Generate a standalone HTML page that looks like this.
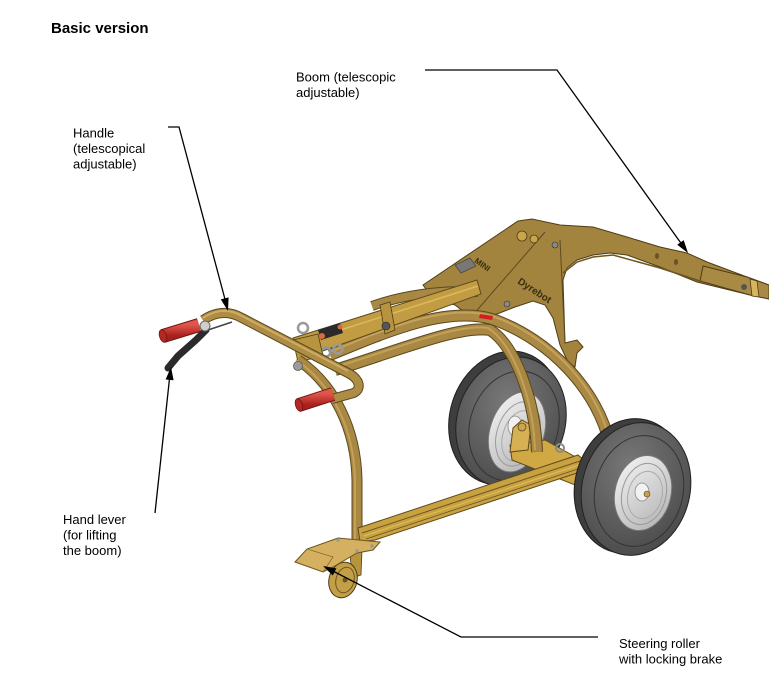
<!DOCTYPE html>
<html><head><meta charset="utf-8"><style>
html,body{margin:0;padding:0;background:#fff;}
svg{display:block;}
text{font-family:"Liberation Sans",Arial,sans-serif;fill:#000;}
</style></head><body>
<svg width="769" height="690" viewBox="0 0 769 690" xmlns="http://www.w3.org/2000/svg">
<defs>
<radialGradient id="tire" cx="0.4" cy="0.35" r="0.75">
<stop offset="0" stop-color="#787878"/><stop offset="1" stop-color="#474747"/>
</radialGradient>
<linearGradient id="rim" x1="0" y1="0" x2="1" y2="1">
<stop offset="0" stop-color="#f6f6f6"/><stop offset="1" stop-color="#b0b0b0"/>
</linearGradient>
<linearGradient id="grip" x1="0" y1="0" x2="0" y2="1">
<stop offset="0" stop-color="#e0554c"/><stop offset="1" stop-color="#a8201c"/>
</linearGradient>
</defs>

<!-- Title -->
<text x="51" y="33" font-size="15" font-weight="bold">Basic version</text>

<!-- ===== BOOM ===== -->
<path d="M423,285 L518,221 L532,219 L560,225 L593,227 L627,237 L660,247 L687,253 L707,262 L747,277 L769,285 L769,299 L750,295 L697,282 L660,267 L627,255 L610,253 L593,255 L577,260 L567,268 L563,280 L565,343 L577,340 L583,347 L577,353 L575,367 L568,362 L560,345 L553,318 L545,305 L533,301 L515,307 L497,314 L472,318 L455,305 L433,298 Z" fill="#a3843f" stroke="#4e3d15" stroke-width="1"/>
<path d="M703,266 L747,277 L769,285 L769,299 L750,295 L700,281 Z" fill="#a98a45" stroke="#4e3d15" stroke-width="1"/>
<path d="M750,279 L757,281 L759,297 L752,296 Z" fill="#d6b55e" stroke="#4e3d15" stroke-width="0.8"/>
<circle cx="744" cy="287" r="3" fill="#555"/>
<ellipse cx="657" cy="256" rx="2" ry="3" fill="#6a5322"/>
<ellipse cx="676" cy="262" rx="2" ry="3" fill="#6a5322"/>
<path d="M545,232 L472,316" stroke="#5d4a1e" stroke-width="1" fill="none"/>
<path d="M560,240 L565,343" stroke="#5d4a1e" stroke-width="1" fill="none"/>
<path d="M563,273 L577,262 L593,257 L613,255 L660,268 L700,281" stroke="#6d5522" stroke-width="1.5" fill="none"/>
<circle cx="522" cy="236" r="5" fill="#c9a54e" stroke="#4e3d15" stroke-width="0.8"/>
<circle cx="534" cy="239" r="4" fill="#c9a54e" stroke="#4e3d15" stroke-width="0.8"/>
<circle cx="555" cy="245" r="3" fill="#888" stroke="#333" stroke-width="0.6"/>
<circle cx="507" cy="304" r="3" fill="#888" stroke="#333" stroke-width="0.6"/>
<text x="517" y="283" font-size="10" font-weight="bold" transform="rotate(33 517 283)" style="fill:#3a2e10">Dyrebot</text>
<text x="474" y="262" font-size="8" font-weight="bold" transform="rotate(35 474 262)" style="fill:#3a2e10">MINI</text>
<path d="M455,265 L470,258 L476,266 L461,273 Z" fill="#777" stroke="#333" stroke-width="0.6"/>

<!-- upper tube behind beam -->
<g fill="none">
<path d="M372,306 C400,296 440,289 478,292" stroke="#5b481c" stroke-width="10"/>
<path d="M372,306 C400,296 440,289 478,292" stroke="#a98843" stroke-width="8"/>
</g>

<!-- ===== BACK WHEEL ===== -->
<ellipse cx="505" cy="418" rx="55" ry="68" transform="rotate(18 505 418)" fill="#3e3e3e" stroke="#1e1e1e" stroke-width="1"/>
<ellipse cx="511" cy="422" rx="54" ry="66" transform="rotate(18 511 422)" fill="url(#tire)" stroke="#222" stroke-width="1"/>
<ellipse cx="514" cy="426" rx="44" ry="56" transform="rotate(18 514 426)" fill="none" stroke="#333" stroke-width="1"/>
<ellipse cx="517" cy="432" rx="27" ry="41" transform="rotate(18 517 432)" fill="url(#rim)" stroke="#777" stroke-width="1"/>
<ellipse cx="518" cy="434" rx="21" ry="33" transform="rotate(18 518 434)" fill="none" stroke="#999" stroke-width="1"/>
<ellipse cx="519" cy="436" rx="16" ry="26" transform="rotate(18 519 436)" fill="none" stroke="#aaa" stroke-width="1"/>
<ellipse cx="515" cy="426" rx="7" ry="10" fill="#f2f2f2" stroke="#888" stroke-width="0.8"/>

<!-- rear axle -->
<path d="M510,445 L545,440 L590,465 L590,480 L575,485 L512,460 Z" fill="#d0a844" stroke="#5d4a1e" stroke-width="1"/>
<path d="M510,452 L513,428 L522,420 L531,425 L528,450 Z" fill="#d6b052" stroke="#5d4a1e" stroke-width="1"/>
<circle cx="522" cy="427" r="4" fill="#c9a54e" stroke="#5d4a1e" stroke-width="0.8"/>
<circle cx="560" cy="448" r="4" fill="none" stroke="#8a8a8a" stroke-width="2"/>

<!-- ===== TUBES ===== -->
<g fill="none" stroke-linecap="butt">
<!-- rear tube to back axle -->
<path d="M335,370 C400,350 460,325 490,330 C515,345 535,400 537,452" stroke="#5b481c" stroke-width="12"/>
<path d="M335,370 C400,350 460,325 490,330 C515,345 535,400 537,452" stroke="#a98843" stroke-width="10"/>
<path d="M335,370 C400,350 460,325 490,330 C515,345 535,400 537,452" stroke="#c4a159" stroke-width="2" transform="translate(-2,-2)"/>
<!-- right big arch -->
<path d="M330,355 C390,330 450,305 495,320 C550,340 598,390 610,445" stroke="#5b481c" stroke-width="12"/>
<path d="M330,355 C390,330 450,305 495,320 C550,340 598,390 610,445" stroke="#aa8944" stroke-width="10"/>
<path d="M330,355 C390,330 450,305 495,320 C550,340 598,390 610,445" stroke="#c6a35c" stroke-width="2" transform="translate(0,-3)"/>
</g>
<path d="M480,314 L493,316 L492,320 L479,318 Z" fill="#d02020"/>

<!-- box beam / cylinder -->
<path d="M293,338 L477,280 L481,294 L320,352 L297,350 Z" fill="#c29c42" stroke="#5d4a1e" stroke-width="1"/>
<path d="M300,343 L478,286" stroke="#dcb95e" stroke-width="1.5"/>
<path d="M380,305 L390,302 L395,330 L385,334 Z" fill="#b8933d" stroke="#4e3d15" stroke-width="0.8"/>
<circle cx="386" cy="326" r="4" fill="#555" stroke="#222" stroke-width="0.6"/>
<path d="M318,330 L340,323 L343,333 L321,340 Z" fill="#2a2a2a"/>
<circle cx="322" cy="336" r="3" fill="#d66a40"/>
<circle cx="340" cy="327" r="2.5" fill="#d66a40"/>
<circle cx="303" cy="328" r="5" fill="none" stroke="#9a9a9a" stroke-width="2.5"/>
<circle cx="326" cy="352" r="4.5" fill="none" stroke="#8a9a9a" stroke-width="2.5"/>
<circle cx="338" cy="349" r="4.5" fill="none" stroke="#9a9a9a" stroke-width="2.5"/>
<path d="M293,340 L318,334 L323,356 L298,362 Z" fill="#b8943e" stroke="#4e3d15" stroke-width="0.8"/>

<!-- left arch to caster -->
<g fill="none">
<path d="M298,360 C335,385 356,430 357,480 L357,545" stroke="#5b481c" stroke-width="11"/>
<path d="M298,360 C335,385 356,430 357,480 L357,545" stroke="#a98843" stroke-width="9"/>
<path d="M298,360 C335,385 356,430 357,480 L357,545" stroke="#c4a159" stroke-width="2" transform="translate(-2,0)"/>
</g>
<circle cx="298" cy="366" r="4.5" fill="#9b9b9b" stroke="#555" stroke-width="0.8"/>

<!-- handle tube -->
<g fill="none">
<path d="M203,320 C215,312 228,310 242,318 L348,373 C362,380 362,392 350,394 L332,399" stroke="#5b481c" stroke-width="10"/>
<path d="M203,320 C215,312 228,310 242,318 L348,373 C362,380 362,392 350,394 L332,399" stroke="#ad8c46" stroke-width="8"/>
<path d="M203,320 C215,312 228,310 242,318 L348,373" stroke="#cfac62" stroke-width="2" transform="translate(0,-2)"/>
</g>

<!-- lever and cable -->
<path d="M208,330 L232,322" stroke="#444" stroke-width="1.5"/>
<path d="M206,330 L196,340 L178,356 L168,368" stroke="#2b2b2b" stroke-width="7" stroke-linecap="round" fill="none"/>
<circle cx="205" cy="326" r="5" fill="#cfcfcf" stroke="#666" stroke-width="1"/>

<!-- grips -->
<path d="M163,336 L199,325" stroke="#6d1512" stroke-width="14"/>
<path d="M163,336 L199,325" stroke="url(#grip)" stroke-width="12"/>
<ellipse cx="163" cy="336" rx="3.5" ry="6.5" transform="rotate(-17 163 336)" fill="#b52723" stroke="#6d1512" stroke-width="0.8"/>
<path d="M299,405 L333,394" stroke="#6d1512" stroke-width="14"/>
<path d="M299,405 L333,394" stroke="url(#grip)" stroke-width="12"/>
<ellipse cx="299" cy="405" rx="3.5" ry="6.5" transform="rotate(-17 299 405)" fill="#b52723" stroke="#6d1512" stroke-width="0.8"/>

<!-- ===== MAIN BEAM ===== -->
<path d="M358,528 L578,455 L586,462 L586,470 L375,540 L360,542 Z" fill="#c8a240" stroke="#5d4a1e" stroke-width="1"/>
<path d="M362,533 L580,461" stroke="#6d5522" stroke-width="1"/>
<path d="M364,536 L582,464" stroke="#e0bd5c" stroke-width="1"/>
<path d="M366,539 L584,467" stroke="#6d5522" stroke-width="0.8"/>

<!-- ===== FRONT WHEEL ===== -->
<ellipse cx="630" cy="486" rx="55" ry="68" transform="rotate(14 630 486)" fill="#3e3e3e" stroke="#1e1e1e" stroke-width="1"/>
<ellipse cx="636" cy="489" rx="54" ry="67" transform="rotate(14 636 489)" fill="url(#tire)" stroke="#222" stroke-width="1"/>
<ellipse cx="639" cy="491" rx="44" ry="56" transform="rotate(14 639 491)" fill="none" stroke="#333" stroke-width="1"/>
<ellipse cx="643" cy="493" rx="28" ry="38" transform="rotate(14 643 493)" fill="url(#rim)" stroke="#777" stroke-width="1"/>
<ellipse cx="644" cy="494" rx="22" ry="31" transform="rotate(14 644 494)" fill="none" stroke="#999" stroke-width="1"/>
<ellipse cx="645" cy="495" rx="17" ry="24" transform="rotate(14 645 495)" fill="none" stroke="#aaa" stroke-width="1"/>
<ellipse cx="642" cy="492" rx="7" ry="9" fill="#f2f2f2" stroke="#888" stroke-width="0.8"/>
<circle cx="647" cy="494" r="3" fill="#c9a04a" stroke="#5d4a1e" stroke-width="0.6"/>

<!-- ===== CASTER ===== -->
<path d="M350,553 L362,550 L361,575 L352,578 Z" fill="#b8943e" stroke="#4e3d15" stroke-width="0.8"/>
<ellipse cx="343" cy="580" rx="14" ry="18" transform="rotate(15 343 580)" fill="#c3a048" stroke="#4a3a18" stroke-width="1"/>
<ellipse cx="345" cy="580" rx="9" ry="13" transform="rotate(15 345 580)" fill="none" stroke="#6b5420" stroke-width="1"/>
<circle cx="345" cy="580" r="2.5" fill="#6b5420"/>
<path d="M295,562 L307,549 L338,538 L380,542 L373,550 L357,553 L333,567 L323,572 Z" fill="#d4b060" stroke="#6b5420" stroke-width="1"/>
<path d="M307,549 L333,557 L323,572" fill="none" stroke="#8a6d28" stroke-width="0.8"/>
<circle cx="338" cy="540" r="1.8" fill="#999"/>
<circle cx="357" cy="551" r="1.8" fill="#999"/>
<circle cx="372" cy="546" r="1.8" fill="#999"/>

<!-- ===== LEADER LINES ===== -->
<g stroke="#000" stroke-width="1.3" fill="none">
<path d="M425,70 L557,70 L683,246"/>
<path d="M168,127 L179,127 L226,303"/>
<path d="M155,513 L170,374"/>
<path d="M598,637 L461,637 L329,569"/>
</g>
<g fill="#000">
<polygon points="688,253 683.7,240.1 677.2,244.7"/>
<polygon points="228,311 228.6,297.4 220.8,299.4"/>
<polygon points="171,367 173.6,380.3 165.6,379.5"/>
<polygon points="323,566 336.4,568.4 332.8,575.5"/>
</g>

<!-- ===== LABELS ===== -->
<text font-size="13">
<tspan x="296" y="81.5">Boom (telescopic</tspan>
<tspan x="296" y="97">adjustable)</tspan>
</text>
<text font-size="13">
<tspan x="73" y="137.5">Handle</tspan>
<tspan x="73" y="153">(telescopical</tspan>
<tspan x="73" y="168.5">adjustable)</tspan>
</text>
<text font-size="13">
<tspan x="63" y="524">Hand lever</tspan>
<tspan x="63" y="539.5">(for lifting</tspan>
<tspan x="63" y="555">the boom)</tspan>
</text>
<text font-size="13">
<tspan x="619" y="648">Steering roller</tspan>
<tspan x="619" y="663.5">with locking brake</tspan>
</text>
</svg>
</body></html>
